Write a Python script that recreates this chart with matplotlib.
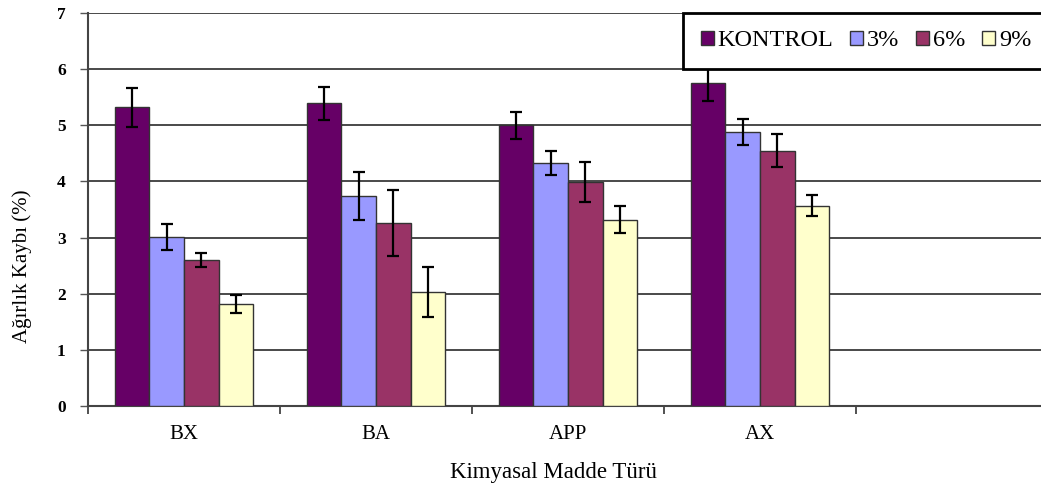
import matplotlib.pyplot as plt
import numpy as np
from matplotlib.patches import Patch

# veri
kategoriler = ["BX", "BA", "APP", "AX"]
seriler = ["KONTROL", "3%", "6%", "9%"]
kontrol = [5.32, 5.39, 5.00, 5.75]
yuzde3 = [3.01, 3.74, 4.33, 4.88]
yuzde6 = [2.60, 3.26, 3.99, 4.55]
yuzde9 = [1.82, 2.03, 3.32, 3.57]
hata_kontrol = [0.35, 0.29, 0.24, 0.32]
hata_3 = [0.23, 0.43, 0.21, 0.23]
hata_6 = [0.12, 0.58, 0.35, 0.30]
hata_9 = [0.16, 0.45, 0.24, 0.18]

renkler = ["#660066", "#9999FF", "#993366", "#FFFFCC"]
degerler = [kontrol, yuzde3, yuzde6, yuzde9]
hatalar = [hata_kontrol, hata_3, hata_6, hata_9]

plt.rcParams['font.family'] = ['Liberation Serif', 'DejaVu Serif']

fig = plt.figure(figsize=(10.41, 4.86), dpi=100)
ax = fig.add_axes([88/1041, 80/486, 960/1041, 393/486])

x = np.arange(len(kategoriler))
genislik = 0.18
for i, (vals, errs) in enumerate(zip(degerler, hatalar)):
    ax.bar(x + (i - 1.5) * genislik, vals, genislik, color=renkler[i],
           edgecolor="#333333", linewidth=1, zorder=3,
           yerr=errs, error_kw=dict(ecolor="black", elinewidth=1.6, capsize=4.5, capthick=1.6, zorder=4))

ax.set_xlim(-0.5, 4.5)
ax.set_ylim(0, 7)
ax.set_yticks(range(8))
ax.set_yticklabels([str(v) for v in range(8)], fontweight="bold", fontsize=12.5)
ax.set_xticks(x)
ax.set_xticklabels(kategoriler, fontsize=15)
ax.set_xticks(np.arange(-0.5, 5, 1), minor=True)
ax.tick_params(axis="x", which="major", length=0, pad=14)
ax.tick_params(axis="x", which="minor", length=6, width=1.2, color="#333333", direction="out")
ax.tick_params(axis="y", length=6, width=1, color="#555555", pad=10)

ax.yaxis.grid(True, color="#2a2a2a", linewidth=1.2, zorder=0)
ax.set_axisbelow(True)
for s in ["top", "right"]:
    ax.spines[s].set_visible(False)
ax.spines["left"].set_color("#444444")
ax.spines["left"].set_linewidth(1.5)
ax.spines["bottom"].set_color("#444444")
ax.spines["bottom"].set_linewidth(1.5)

fig.text(22/1041, 1 - 266/486, "Ağırlık Kaybı (%)", rotation=90, ha="center", va="center", fontsize=15)
fig.text(554/1041, 1 - 472/486, "Kimyasal Madde Türü", ha="center", va="center", fontsize=16.5)

handles = [Patch(facecolor=renkler[i], edgecolor="#333333") for i in range(4)]
leg = fig.legend(handles, seriler, loc="upper left", bbox_to_anchor=(683/1041, 1 - 13/486),
                 ncol=4, fontsize=17.5, frameon=True, fancybox=False, framealpha=1,
                 edgecolor="black", handlelength=0.55, handleheight=0.55, handletextpad=0.15,
                 columnspacing=0.68, borderpad=0.72, borderaxespad=0)
leg.get_frame().set_linewidth(2)

fig.savefig("out.png", dpi=100)
